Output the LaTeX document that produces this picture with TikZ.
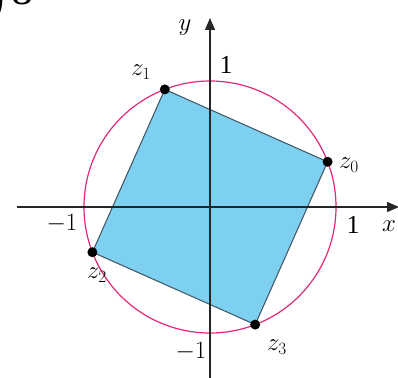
\documentclass[tikz,border=0pt]{standalone}
\usepackage{fontspec}
\setmainfont{Liberation Serif}
\usetikzlibrary{arrows.meta}
\definecolor{sqfill}{RGB}{125,208,240}
\definecolor{sqedge}{RGB}{60,80,95}
\definecolor{circ}{RGB}{228,40,120}
\begin{document}
\begin{tikzpicture}[x=1pt,y=-1pt,
  lab/.style={font=\fontsize{26}{28}\selectfont, inner sep=0pt},
  axis/.style={draw=black!85, line width=1.1pt},
  dot/.style={circle, fill=black, inner sep=0pt, minimum size=10pt}]
\useasboundingbox (0,0) rectangle (398,377);
\coordinate (O) at (210,207);
\coordinate (p0) at (327.6,161.8);
\coordinate (p1) at (164.8,89.4);
\coordinate (p2) at (92.4,252.2);
\coordinate (p3) at (255.2,324.6);
% square
\filldraw[fill=sqfill, draw=sqedge, line width=1pt] (p0) -- (p1) -- (p2) -- (p3) -- cycle;
% circle
\draw[circ, line width=1.2pt] (O) circle (126);
% axes
\coordinate (xl) at (17,207);
\coordinate (xr) at (399,207);
\coordinate (yb) at (210,380);
\coordinate (yt) at (210,18);
\draw[axis, -{Triangle[length=12pt,width=10pt]}] (xl) -- (xr);
\draw[axis, -{Triangle[length=12pt,width=10pt]}] (yb) -- (yt);
% points
\node[dot] (d0) at (p0) {};
\node[dot] (d1) at (p1) {};
\node[dot] (d2) at (p2) {};
\node[dot] (d3) at (p3) {};
% labels
\node[lab] (l0) at (349,165) {$z_0$};
\node[lab] (l1) at (141,72) {$z_1$};
\node[lab] (l2) at (97,275) {$z_2$};
\node[lab] (l3) at (277,347) {$z_3$};
\node[lab] (ly) at (185,28) {$y$};
\node[lab] (lx) at (389,226) {$x$};
\node[lab] (t1) at (226,65) {1};
\node[lab] (r1) at (353,225) {1};
\node[lab] (lm1) at (62,224) {$-1$};
\node[lab] (bm1) at (191,352) {$-1$};
% cropped fragment at top-left
\node[font=\fontsize{60}{62}\selectfont, inner sep=0pt, anchor=south east] (fragp) at (6,26) {)};
\node[font=\fontsize{44}{46}\selectfont, inner sep=0pt, anchor=base west] (frag8) at (11,5) {8};
\end{tikzpicture}
\end{document}
